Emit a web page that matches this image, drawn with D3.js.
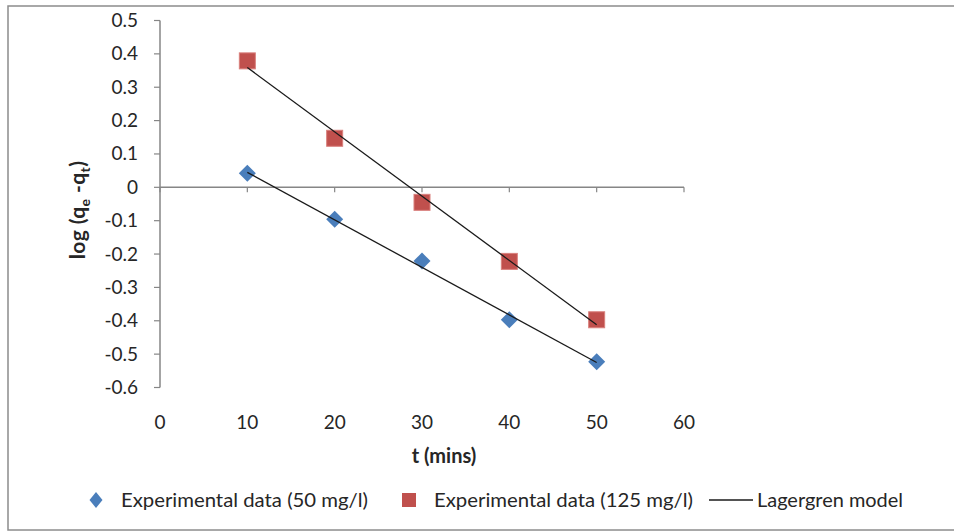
<!doctype html>
<meta charset="utf-8">
<title>Lagergren plot</title>
<script src="https://cdn.jsdelivr.net/npm/d3@7"></script>
<style>
  body { margin: 0; background: #fff; }
  text { font-family: Lato, "Open Sans", sans-serif; fill: #262626; }
</style>
<body>
<svg id="chart" width="954" height="532"></svg>
<script>

// data
var times = [10, 20, 30, 40, 50];
var data50 = [0.042, -0.096, -0.221, -0.397, -0.523];
var data125 = [0.379, 0.147, -0.045, -0.222, -0.397];
var fitTimes = [10, 50];
var fit50 = [0.045, -0.525];
var fit125 = [0.359, -0.412];
var xTicks = [0, 10, 20, 30, 40, 50, 60];
var yTicks = [0.5, 0.4, 0.3, 0.2, 0.1, 0, -0.1, -0.2, -0.3, -0.4, -0.5, -0.6];
var legendNames = ['Experimental data (50 mg/l)', 'Experimental data (125 mg/l)', 'Lagergren model'];

var blue = '#4a7ebb'
  , red = '#c0504d'
  , axisCol = '#868686';

var svg = d3.select('#chart');

// outer frame
svg.append('rect')
  .attr('x', 8).attr('y', 6)
  .attr('width', 960).attr('height', 524)
  .style('fill', 'none')
  .style('stroke', '#8c8c8c')
  .style('stroke-width', 1.5);

var x = d3.scaleLinear().domain([0, 60]).range([160, 684]);
var y = d3.scaleLinear().domain([-0.6, 0.5]).range([387.5, 20.5]);

function fmt(d) { return d === 0 ? '0' : (+d.toFixed(1)).toString(); }

// y axis
svg.append('line')
  .attr('x1', x(0)).attr('x2', x(0))
  .attr('y1', y(0.5)).attr('y2', y(-0.6))
  .style('stroke', axisCol).style('stroke-width', 1.5);

svg.selectAll('line.ytick').data(yTicks).enter().append('line')
  .classed('ytick', true)
  .attr('x1', x(0) - 6).attr('x2', x(0))
  .attr('y1', function(d) { return y(d) }).attr('y2', function(d) { return y(d) })
  .style('stroke', axisCol).style('stroke-width', 1.2);

svg.selectAll('text.ylab').data(yTicks).enter().append('text')
  .classed('ylab', true)
  .attr('x', 138)
  .attr('y', function(d) { return y(d) + 6.5 })
  .attr('text-anchor', 'end')
  .style('font-size', '19px')
  .text(fmt);

// x axis sits on y = 0
svg.append('line')
  .attr('x1', x(0)).attr('x2', x(60))
  .attr('y1', y(0)).attr('y2', y(0))
  .style('stroke', axisCol).style('stroke-width', 1.5);

svg.selectAll('line.xtick').data(xTicks).enter().append('line')
  .classed('xtick', true)
  .attr('x1', function(d) { return x(d) }).attr('x2', function(d) { return x(d) })
  .attr('y1', y(0)).attr('y2', y(0) + 5)
  .style('stroke', axisCol).style('stroke-width', 1.2);

svg.selectAll('text.xlab').data(xTicks).enter().append('text')
  .classed('xlab', true)
  .attr('x', function(d) { return x(d) })
  .attr('y', 429)
  .attr('text-anchor', 'middle')
  .style('font-size', '19px')
  .text(fmt);

// axis titles
svg.append('text')
  .attr('x', 444).attr('y', 463)
  .attr('text-anchor', 'middle')
  .style('font-size', '20px').style('font-weight', 'bold')
  .text('t (mins)');

var ytitle = svg.append('text')
  .attr('transform', 'translate(85,210) rotate(-90)')
  .attr('text-anchor', 'middle')
  .style('font-size', '21px').style('font-weight', 'bold')
  .style('letter-spacing', '0.4px');
ytitle.append('tspan').text('log (q');
ytitle.append('tspan').attr('dy', 5).style('font-size', '14px').text('e');
ytitle.append('tspan').attr('dy', -5).text(' -q');
ytitle.append('tspan').attr('dy', 5).style('font-size', '14px').text('t');
ytitle.append('tspan').attr('dy', -5).text(')');

// fitted lines
var line = d3.line()
  .x(function(d) { return x(d[0]) })
  .y(function(d) { return y(d[1]) });

[fit125, fit50].forEach(function(fit) {
  svg.append('path')
    .datum(fitTimes.map(function(t, i) { return [t, fit[i]] }))
    .attr('d', line)
    .style('fill', 'none')
    .style('stroke', '#1a1a1a')
    .style('stroke-width', 1.3);
});

function diamond(r) {
  return 'M0,' + (-r) + 'L' + r + ',0L0,' + r + 'L' + (-r) + ',0Z';
}

// experimental points (drawn under the fit lines like the picture)
svg.selectAll('path.d50').data(times).enter().insert('path', 'path')
  .classed('d50', true)
  .attr('transform', function(d, i) { return 'translate(' + x(d) + ',' + y(data50[i]) + ')' })
  .attr('d', diamond(8.5))
  .style('fill', blue);

svg.selectAll('rect.d125').data(times).enter().insert('rect', 'path')
  .classed('d125', true)
  .attr('x', function(d) { return x(d) - 8 })
  .attr('y', function(d, i) { return y(data125[i]) - 8 })
  .attr('width', 16).attr('height', 16)
  .style('fill', red)
  .style('stroke', '#d9807d').style('stroke-width', 1);

// legend
var ly = 500;
svg.append('path')
  .attr('transform', 'translate(96,' + ly + ')')
  .attr('d', 'M0,-8L6.5,0L0,8L-6.5,0Z')
  .style('fill', blue);
svg.append('rect')
  .attr('x', 402).attr('y', ly - 7).attr('width', 14).attr('height', 14)
  .style('fill', red);
svg.append('line')
  .attr('x1', 709).attr('x2', 753).attr('y1', ly).attr('y2', ly)
  .style('stroke', '#1a1a1a').style('stroke-width', 1.3);

var legendPos = [[121, 247], [434, 259], [757, 146]];
svg.selectAll('text.leg').data(legendNames).enter().append('text')
  .classed('leg', true)
  .attr('x', function(d, i) { return legendPos[i][0] })
  .attr('y', ly + 6.5)
  .attr('textLength', function(d, i) { return legendPos[i][1] })
  .attr('lengthAdjust', 'spacingAndGlyphs')
  .style('font-size', '19px')
  .text(function(d) { return d });

</script>
</body>
